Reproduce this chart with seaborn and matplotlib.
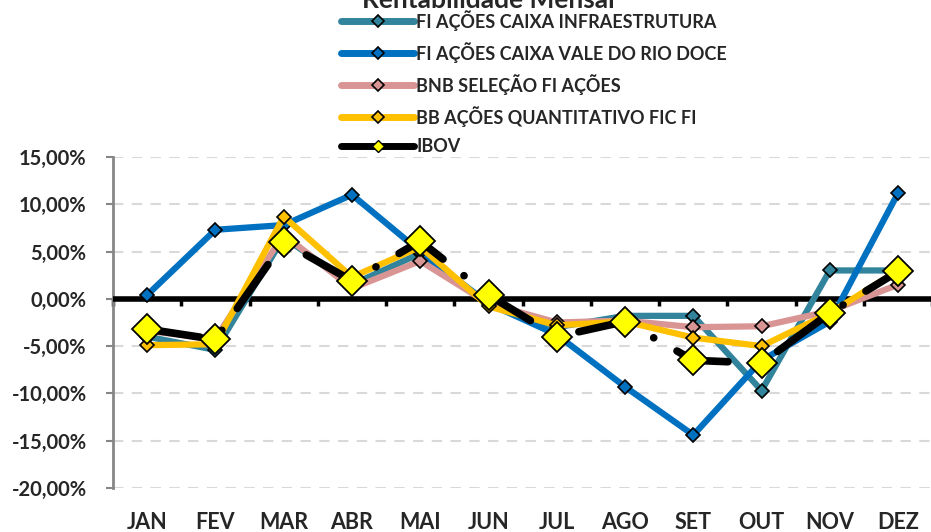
import numpy as np
import pandas as pd
import matplotlib
matplotlib.use('Agg')
import matplotlib.pyplot as plt
from matplotlib.lines import Line2D
from matplotlib.ticker import FuncFormatter, MultipleLocator
import seaborn as sns

# Dados (rentabilidade mensal, %)
meses = ['JAN', 'FEV', 'MAR', 'ABR', 'MAI', 'JUN', 'JUL', 'AGO', 'SET', 'OUT', 'NOV', 'DEZ']
infraestrutura = [-4.0, -5.4, 6.5, 1.5, 4.8, -0.5, -3.0, -1.8, -1.8, -9.7, 3.0, 3.0]
vale = [0.4, 7.3, 7.8, 11.0, 5.0, -0.5, -3.8, -9.3, -14.4, -6.5, -2.4, 11.2]
bnb = [-3.4, -4.2, 6.8, 1.1, 4.0, -0.5, -2.5, -2.3, -3.0, -2.9, -1.3, 1.5]
bb_quant = [-4.9, -4.8, 8.7, 2.3, 5.5, -0.8, -2.8, -2.4, -4.1, -5.0, -1.5, 3.0]
ibov = [-3.2, -4.3, 6.0, 1.9, 6.1, 0.4, -4.0, -2.4, -6.5, -6.8, -1.5, 2.9]

series = {
    'FI AÇÕES CAIXA INFRAESTRUTURA': infraestrutura,
    'FI AÇÕES CAIXA VALE DO RIO DOCE': vale,
    'BNB SELEÇÃO FI AÇÕES': bnb,
    'BB AÇÕES QUANTITATIVO FIC FI': bb_quant,
    'IBOV': ibov,
}
cores = {
    'FI AÇÕES CAIXA INFRAESTRUTURA': '#31849B',
    'FI AÇÕES CAIXA VALE DO RIO DOCE': '#0070C0',
    'BNB SELEÇÃO FI AÇÕES': '#D99594',
    'BB AÇÕES QUANTITATIVO FIC FI': '#FFC000',
    'IBOV': '#000000',
}

sns.set_style('white')
plt.rcParams['font.family'] = ['Lato', 'DejaVu Sans']
plt.rcParams['font.weight'] = 'bold'

fig = plt.figure(figsize=(9.31, 5.32), dpi=100)
ax = fig.add_axes([0.1214, 0.0827, 0.88, 0.6223])

x = np.arange(len(meses))
for nome, valores in series.items():
    df = pd.DataFrame({'mes': x, 'valor': valores})
    if nome == 'IBOV':
        sns.lineplot(data=df, x='mes', y='valor', ax=ax, color='black', lw=5.5,
                     marker='D', markersize=15, markerfacecolor='#FFFF00',
                     markeredgecolor='black', markeredgewidth=1.3, zorder=6)
        ln = ax.lines[-1]
        ln.set_dashes((7, 3.5, 0.01, 3.5))
        ln.set_dash_capstyle('round')
    else:
        sns.lineplot(data=df, x='mes', y='valor', ax=ax, color=cores[nome], lw=4.5,
                     marker='D', markersize=7, markerfacecolor=cores[nome],
                     markeredgecolor='black', markeredgewidth=1.2, zorder=4)

# Linha do zero com marcas de categoria
ax.axhline(0, color='black', lw=4, zorder=3)
sec = ax.secondary_xaxis(20 / 35)
sec.set_xticks(np.arange(-0.5, 12, 1))
sec.tick_params(axis='x', direction='out', length=5, width=2.5, color='black',
                labelbottom=False, labeltop=False, top=False, bottom=True)
sec.spines['bottom'].set_visible(False)
sec.spines['top'].set_visible(False)

ax.set_xlim(-0.5, 11.5)
ax.set_ylim(-20, 15)
ax.yaxis.set_major_locator(MultipleLocator(5))
ax.yaxis.set_major_formatter(FuncFormatter(lambda v, p: f'{v:.2f}%'.replace('.', ',')))
ax.set_xticks(x)
ax.set_xticklabels(meses)
ax.tick_params(axis='x', length=0, pad=17, labelsize=15.5)
ax.tick_params(axis='y', length=5, width=1.5, color='#868686', left=True, pad=14, labelsize=14.5)
for lab in ax.get_xticklabels() + ax.get_yticklabels():
    lab.set_fontweight('bold')
ax.set_xlabel('')
ax.set_ylabel('')

ax.grid(axis='y', color='#D9D9D9', linestyle=(0, (5, 4)), lw=1.5)
ax.grid(axis='x', visible=False)
for s in ['top', 'right', 'bottom']:
    ax.spines[s].set_visible(False)
ax.spines['left'].set_color('#868686')
ax.spines['left'].set_linewidth(2)

# Legenda
handles = []
for nome in series:
    if nome == 'IBOV':
        handles.append(Line2D([], [], color='black', lw=5, marker='D', markersize=6,
                              markerfacecolor='#FFFF00', markeredgecolor='black',
                              solid_capstyle='round'))
    else:
        handles.append(Line2D([], [], color=cores[nome], lw=5, marker='D', markersize=6,
                              markerfacecolor=cores[nome], markeredgecolor='black',
                              markeredgewidth=1.2, solid_capstyle='round'))
leg = fig.legend(handles, list(series.keys()), loc='upper left',
                 bbox_to_anchor=(0.349, 1.012), frameon=False,
                 handlelength=4.05, handletextpad=0.11, labelspacing=0.62,
                 prop={'weight': 'bold', 'size': 13})

fig.text(0.525, 1.0, 'Rentabilidade Mensal', ha='center', va='center',
         fontsize=19, fontweight='bold')

fig.savefig('out.png', dpi=100, facecolor='white')
plt.close(fig)
